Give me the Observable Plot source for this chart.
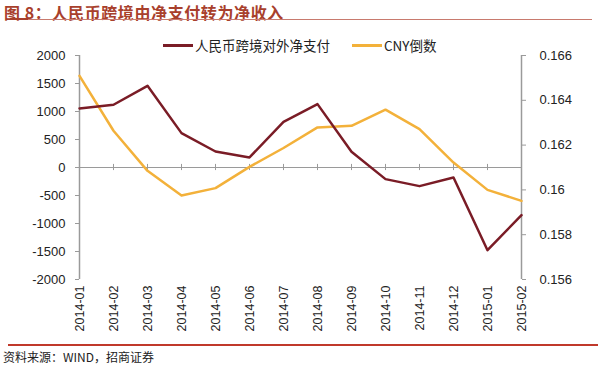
<!DOCTYPE html>
<html><head><meta charset="utf-8">
<script src="https://cdn.jsdelivr.net/npm/d3@7"></script>
<script src="https://cdn.jsdelivr.net/npm/@observablehq/plot@0.6"></script>
<style>
body{margin:0;background:#fff;}
#wrap{position:relative;width:600px;height:367px;overflow:hidden;font-family:"Liberation Sans",Arial,sans-serif;}
#title{position:absolute;left:4px;top:0px;font-family:"Noto Sans CJK SC";font-weight:bold;font-size:16px;color:#a8402c;letter-spacing:0.6px;white-space:nowrap;}
#tline{position:absolute;left:10px;top:19px;width:582px;height:1px;background:#c87a6e;}
#tline2{position:absolute;left:10px;top:18px;width:18px;height:2px;background:#a8402c;}
#bline{position:absolute;left:8px;top:344px;width:590px;height:2px;background:#c0392b;}
#source{position:absolute;left:3px;top:348px;font-family:"Noto Sans CJK SC";font-size:12px;color:#222;white-space:nowrap;}
.leg{position:absolute;top:35px;font-family:"Noto Sans CJK SC";font-size:13.5px;color:#222;white-space:nowrap;}
.sw{position:absolute;top:44px;width:30px;height:2.5px;}
#chart{position:absolute;left:0;top:0;}
#chart svg text{font-family:"Liberation Sans",Arial,sans-serif;}
</style></head>
<body><div id="wrap">
<div id="chart"></div>
<div id="title">图 8：人民币跨境由净支付转为净收入</div>
<div id="tline"></div><div id="tline2"></div>
<div class="sw" style="left:163px;background:#7a1c26"></div>
<div class="leg" style="left:195px">人民币跨境对外净支付</div>
<div class="sw" style="left:352px;background:#f3b13a"></div>
<div class="leg" style="left:384px">CNY倒数</div>
<div id="bline"></div>
<div id="source">资料来源：WIND，招商证券</div>
</div>
<script>
const months = ["2014-01","2014-02","2014-03","2014-04","2014-05","2014-06","2014-07","2014-08","2014-09","2014-10","2014-11","2014-12","2015-01","2015-02"];
const netPayment = [1054,1120,1459,614,286,179,816,1132,280,-208,-333,-178,-1476,-851];
const cnyInverse = [0.16509,0.16264,0.16085,0.15975,0.16008,0.16103,0.16187,0.16279,0.16286,0.16358,0.16271,0.16122,0.16000,0.15951];
const leftTicks = [-2000,-1500,-1000,-500,0,500,1000,1500,2000];
const rightTicks = [0.156,0.158,0.160,0.162,0.164,0.166];

// map right-axis value to left-axis units
const toLeft = r => (r - 0.161) / 0.0000025;
const redData = months.map((m,i)=>({m, v: netPayment[i]}));
const orangeData = months.map((m,i)=>({m, v: toLeft(cnyInverse[i])}));
const grey = "#9a9a9a";

const chart = Plot.plot({
  width: 600, height: 367,
  marginTop: 55, marginBottom: 88, marginLeft: 79, marginRight: 79,
  style: {fontFamily: "'Liberation Sans', Arial, sans-serif", fontSize: "13px", color: "#222", background: "transparent"},
  x: {type: "point", domain: months, padding: 0},
  y: {domain: [-2000, 2000]},
  marks: [
    Plot.ruleY([0], {stroke: grey, strokeWidth: 1.2}),
    Plot.ruleX(months.slice(1), {x: d=>d, y1: -55, y2: 55, stroke: grey, strokeWidth: 1}),
    Plot.ruleX([months[0]], {y1: -2000, y2: 2000, stroke: grey, strokeWidth: 1.5}),
    Plot.ruleX([months[months.length-1]], {y1: -2000, y2: 2000, stroke: grey, strokeWidth: 1.5}),
    Plot.axisY({anchor: "left", ticks: leftTicks, tickSize: 4, tickPadding: 10, stroke: grey, label: null, fontSize: 13,
      tickFormat: d => String(d)}),
    Plot.axisY({anchor: "right", ticks: rightTicks.map(toLeft), tickSize: 4, tickPadding: 14, stroke: grey, label: null, fontSize: 13,
      tickFormat: d => String(+(0.161 + d*0.0000025).toFixed(3))}),
    Plot.axisX({anchor: "bottom", tickRotate: -90, tickSize: 0, tickPadding: 6, label: null, fontSize: 12.5}),
    Plot.line(orangeData, {x: "m", y: "v", stroke: "#f3b13a", strokeWidth: 2.5}),
    Plot.line(redData, {x: "m", y: "v", stroke: "#7a1c26", strokeWidth: 2.5})
  ]
});
document.getElementById("chart").appendChild(chart);
</script>
</body></html>
